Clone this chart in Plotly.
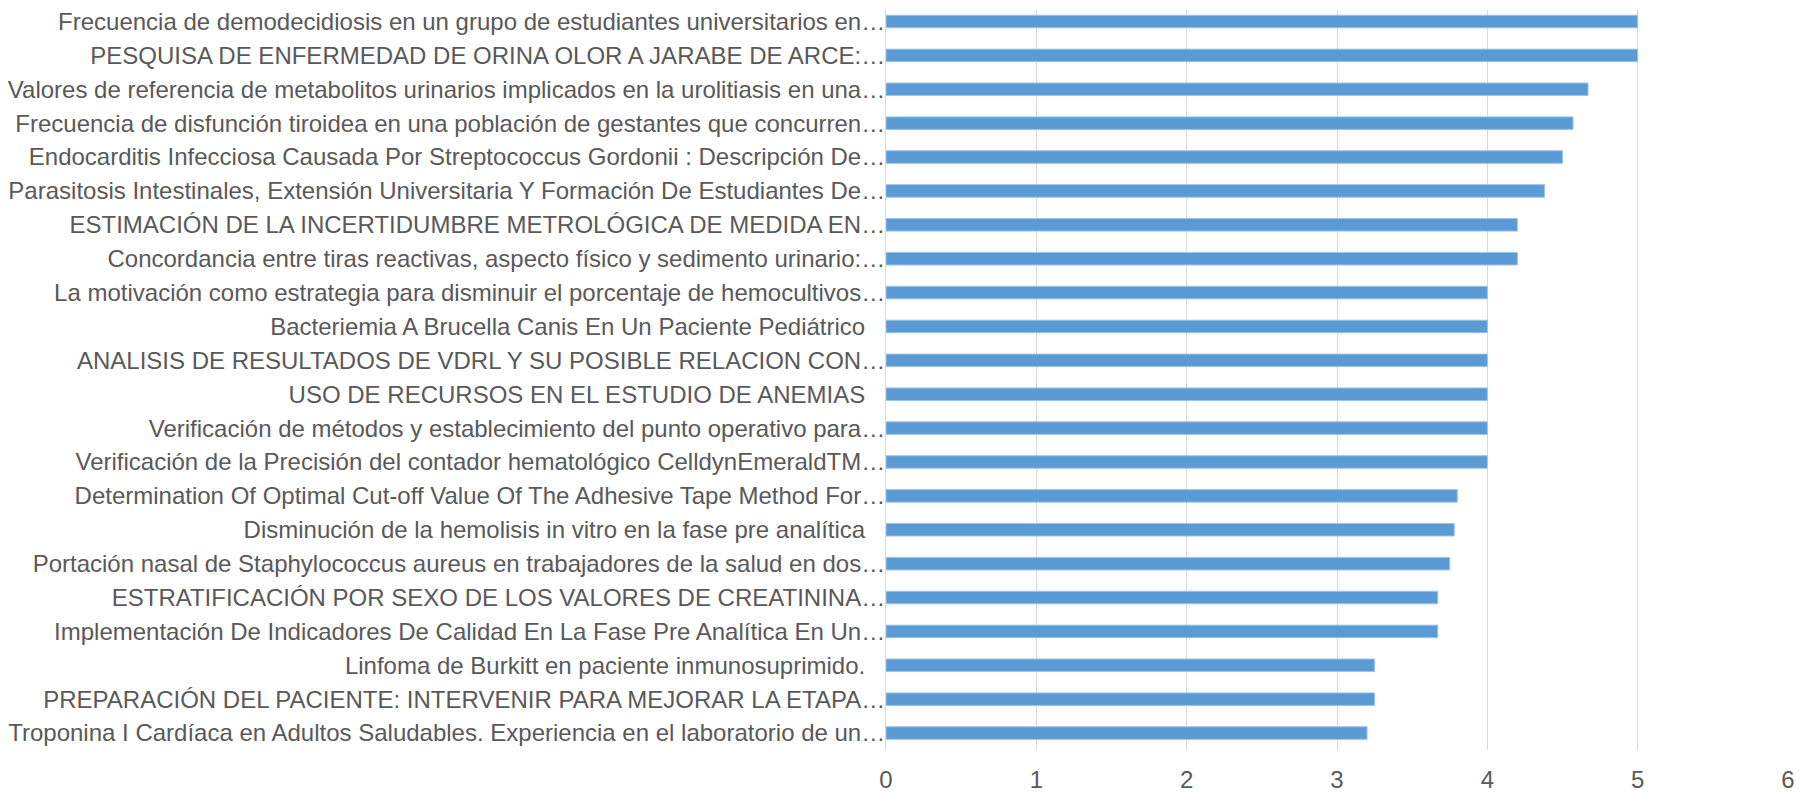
import plotly.graph_objects as go

# categories listed top to bottom, as they appear in the chart
titles = [
    "Frecuencia de demodecidiosis en un grupo de estudiantes universitarios en…",
    "PESQUISA DE ENFERMEDAD DE ORINA OLOR A JARABE DE ARCE:…",
    "Valores de referencia de metabolitos urinarios implicados en la urolitiasis en una…",
    "Frecuencia de disfunción tiroidea en una población de gestantes que concurren…",
    "Endocarditis Infecciosa Causada Por Streptococcus Gordonii : Descripción De…",
    "Parasitosis Intestinales, Extensión Universitaria Y Formación De Estudiantes De…",
    "ESTIMACIÓN DE LA INCERTIDUMBRE METROLÓGICA DE MEDIDA EN…",
    "Concordancia entre tiras reactivas, aspecto físico y sedimento urinario:…",
    "La motivación como estrategia para disminuir el porcentaje de hemocultivos…",
    "Bacteriemia A Brucella Canis En Un Paciente Pediátrico\u00a0\u00a0\u00a0",
    "ANALISIS DE RESULTADOS DE VDRL Y SU POSIBLE RELACION CON…",
    "USO DE RECURSOS EN EL ESTUDIO DE ANEMIAS\u00a0\u00a0\u00a0",
    "Verificación de métodos y establecimiento del punto operativo para…",
    "Verificación de la Precisión del contador hematológico CelldynEmeraldTM…",
    "Determination Of Optimal Cut-off Value Of The Adhesive Tape Method For…",
    "Disminución de la hemolisis in vitro en la fase pre analítica\u00a0\u00a0\u00a0",
    "Portación nasal de Staphylococcus aureus en trabajadores de la salud en dos…",
    "ESTRATIFICACIÓN POR SEXO DE LOS VALORES DE CREATININA…",
    "Implementación De Indicadores De Calidad En La Fase Pre Analítica En Un…",
    "Linfoma de Burkitt en paciente inmunosuprimido.\u00a0\u00a0\u00a0",
    "PREPARACIÓN DEL PACIENTE: INTERVENIR PARA MEJORAR LA ETAPA…",
    "Troponina I Cardíaca en Adultos Saludables. Experiencia en el laboratorio de un…",
]
scores = [5.0, 5.0, 4.67, 4.57, 4.5, 4.38, 4.2, 4.2, 4.0, 4.0, 4.0,
          4.0, 4.0, 4.0, 3.8, 3.78, 3.75, 3.67, 3.67, 3.25, 3.25, 3.2]
x_ticks = [0, 1, 2, 3, 4, 5, 6]

text_color = "#595959"
grid_color = "#D9D9D9"

fig = go.Figure(go.Bar(
    x=scores,
    y=titles,
    orientation="h",
    marker=dict(color="#5B9BD5", line=dict(color="#9DC3E6", width=1)),
    width=0.37,
))

# page body has an 8px margin, so the figure is sized to fit the window
fig.update_layout(
    width=1804,
    height=785,
    margin=dict(l=878, r=24, t=0, b=33),
    paper_bgcolor="white",
    plot_bgcolor="white",
    font=dict(family="Liberation Sans, Arial, sans-serif", size=24, color=text_color),
    showlegend=False,
)
fig.update_xaxes(
    range=[0, 6],
    tickvals=x_ticks,
    showgrid=True,
    gridcolor=grid_color,
    gridwidth=1,
    zeroline=False,
    showline=False,
    ticks="",
    tickfont=dict(size=24, color=text_color),
    ticklabelstandoff=13,
)
fig.update_yaxes(
    range=[len(titles) - 0.5, -0.34],
    showgrid=False,
    showline=True,
    linecolor=grid_color,
    linewidth=1,
    ticks="",
    tickfont=dict(size=24, color=text_color),
    ticklabelstandoff=-5,
)

fig.write_html("out.html")
